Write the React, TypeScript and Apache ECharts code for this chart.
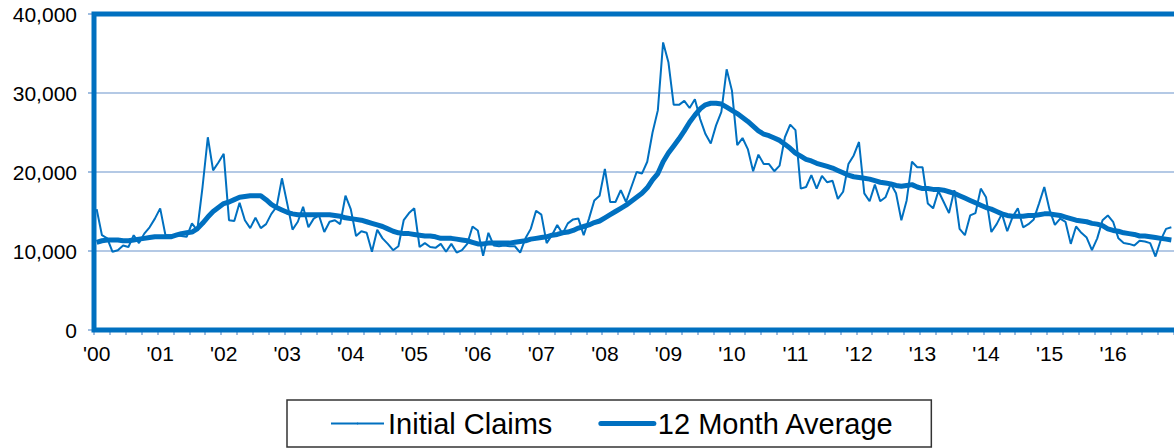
import React, { useEffect, useRef } from "react";
import * as echarts from "echarts";

const yearLabels = ["'00","'01","'02","'03","'04","'05","'06","'07","'08","'09","'10","'11","'12","'13","'14","'15","'16"];
const monthNames = ["Jan","Feb","Mar","Apr","May","Jun","Jul","Aug","Sep","Oct","Nov","Dec"];
const yTicks = [0, 10000, 20000, 30000, 40000];

const initialClaims = [
  15300,12000,11600,9900,10100,10700,10500,12000,11000,12200,13000,14100,
  15400,12000,12000,12000,11900,11800,13500,12600,18100,24400,20200,21200,
  22300,13900,13800,16100,13900,12900,14200,12900,13400,14700,15600,19200,
  16000,12700,13700,15600,13000,14100,14500,12400,13700,13900,13400,17000,
  15300,11900,12500,12300,9900,12700,11600,10900,10100,10600,13900,14800,
  15400,10500,11000,10500,10400,10900,9900,10900,9800,10100,10900,13100,
  12600,9400,12300,10700,10600,10700,10600,10600,9800,11600,12800,15100,
  14600,11000,12000,13300,12200,13500,14000,14100,12000,14100,16400,17000,
  20400,16200,16200,17700,16200,18100,20000,19800,21300,25000,27800,36400,
  33900,28500,28500,29000,28100,29200,26700,24800,23600,25900,27600,33000,
  30300,23400,24300,22900,20100,22200,21000,21000,20100,20800,24400,26000,
  25300,17900,18100,19600,17900,19500,18700,18900,16600,17500,21000,22100,
  23800,17300,16300,18400,16300,16800,18500,17300,13900,16400,21300,20600,
  20600,16000,15400,17600,16200,14800,17700,12800,12000,14500,14800,17900,
  16800,12400,13400,14700,12500,14300,15400,13000,13400,14000,16000,18100,
  15200,13300,14100,13700,10900,13100,12300,11700,10100,11600,13900,14500,
  13700,11600,11000,10900,10700,11300,11200,11000,9300,11400,12800,13000
];

const twelveMonthAvg = [
  11100,11300,11400,11400,11400,11300,11300,11400,11500,11600,11700,11800,
  11800,11800,11800,12000,12200,12300,12400,12800,13500,14300,15000,15500,
  16000,16200,16500,16800,16900,17000,17000,17000,16500,15900,15500,15200,
  14900,14700,14600,14600,14600,14600,14600,14600,14600,14500,14400,14200,
  14100,14000,13900,13700,13500,13300,13100,12800,12500,12300,12200,12200,
  12100,12000,11900,11900,11800,11600,11600,11600,11500,11400,11300,11100,
  10900,10900,11000,11000,11000,11000,11000,11100,11200,11300,11500,11600,
  11700,11800,12000,12100,12300,12400,12600,12900,13100,13300,13600,13800,
  14200,14600,15000,15400,15800,16300,16800,17300,18000,19000,19800,21300,
  22400,23300,24200,25200,26300,27200,28000,28500,28700,28700,28600,28200,
  27800,27400,26900,26400,25800,25200,24800,24600,24300,24000,23500,23000,
  22400,22000,21600,21400,21100,20900,20700,20500,20200,19900,19600,19400,
  19300,19200,19100,18900,18700,18600,18500,18300,18200,18300,18400,18100,
  17900,17900,17800,17800,17700,17500,17300,17000,16700,16400,16100,15800,
  15500,15300,15000,14700,14500,14400,14400,14400,14500,14500,14600,14700,
  14700,14600,14500,14300,14100,13900,13800,13700,13500,13400,13200,12800,
  12600,12500,12300,12200,12100,11900,11900,11800,11700,11600,11500,11400
];

const categories = yearLabels.flatMap((y) => monthNames.map((m) => `${m} ${y}`));

const BLUE = "#0070C0";
const FONT = "Liberation Sans, Arial, sans-serif";

const GRID_LEFT = 94;
const GRID_TOP = 14;
const GRID_W = 1084;
const GRID_H = 316;

export default function App() {
  const ref = useRef<HTMLDivElement>(null);
  useEffect(() => {
    if (!ref.current) return;
    const chart = echarts.init(ref.current, undefined, { renderer: "svg" });
    chart.setOption({
      animation: false,
      backgroundColor: "#ffffff",
      textStyle: { fontFamily: FONT },
      grid: {
        left: GRID_LEFT,
        top: GRID_TOP,
        width: GRID_W,
        height: GRID_H,
        show: false,
      },
      graphic: [
        {
          type: "rect",
          z: 100,
          silent: true,
          shape: { x: GRID_LEFT, y: GRID_TOP, width: GRID_W, height: GRID_H },
          style: { fill: "none", stroke: BLUE, lineWidth: 5 },
        },
      ],
      legend: {
        left: 287,
        top: 400,
        padding: [9, 37, 9, 43],
        itemGap: 46,
        itemWidth: 53,
        itemHeight: 2,
        borderColor: "#333333",
        borderWidth: 1.5,
        textStyle: { fontSize: 29, color: "#000", fontFamily: FONT, padding: [0, 0, 0, -1] },
        data: [
          { name: "Initial Claims", lineStyle: { width: 2, color: BLUE } },
          { name: "12 Month Average", lineStyle: { width: 5, color: BLUE, cap: "round" } },
        ],
      },
      xAxis: {
        type: "category",
        data: categories,
        boundaryGap: true,
        axisLine: { show: false },
        axisTick: {
          show: true,
          interval: 2,
          length: 5,
          lineStyle: { color: "#7FA7D6", width: 1.5 },
        },
        axisLabel: {
          interval: 11,
          margin: 13,
          fontSize: 21,
          color: "#000",
          fontFamily: FONT,
          formatter: (v: string) => (v.startsWith("Jan") ? v.slice(4) : ""),
        },
        splitLine: { show: false },
      },
      yAxis: {
        type: "value",
        min: yTicks[0],
        max: yTicks[yTicks.length - 1],
        interval: 10000,
        axisLine: { show: false },
        axisTick: { show: true, length: 6, lineStyle: { color: "#7FA7D6", width: 1.5 } },
        axisLabel: {
          margin: 17,
          fontSize: 21,
          color: "#000",
          fontFamily: FONT,
          formatter: (v: number) => v.toLocaleString("en-US"),
        },
        splitLine: { show: true, lineStyle: { color: "#9BB7DD", width: 1.5 } },
      },
      series: [
        {
          name: "Initial Claims",
          type: "line",
          data: initialClaims,
          symbol: "none",
          lineStyle: { color: BLUE, width: 2 },
          itemStyle: { color: BLUE },
          z: 3,
        },
        {
          name: "12 Month Average",
          type: "line",
          data: twelveMonthAvg,
          symbol: "none",
          lineStyle: { color: BLUE, width: 5 },
          itemStyle: { color: BLUE },
          z: 2,
        },
      ],
    });
    return () => chart.dispose();
  }, []);
  return (
    <div
      ref={ref}
      style={{ position: "fixed", left: 0, top: 0, width: 1174, height: 448, background: "#fff" }}
    />
  );
}
